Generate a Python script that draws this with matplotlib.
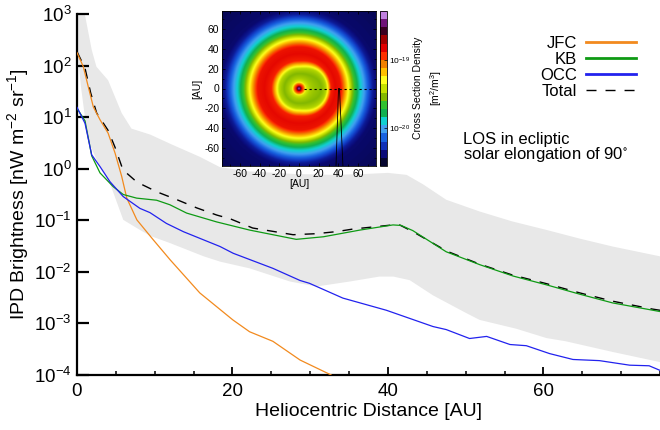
import numpy as np
import matplotlib
matplotlib.use('Agg')
import matplotlib.pyplot as plt
import matplotlib.ticker as mticker
from matplotlib.colors import ListedColormap, LinearSegmentedColormap, LogNorm
from matplotlib.cm import ScalarMappable

plt.rcParams['font.family'] = ['Liberation Sans', 'DejaVu Sans']
plt.rcParams['mathtext.fontset'] = 'custom'
plt.rcParams['mathtext.rm'] = 'Liberation Sans'
plt.rcParams['mathtext.it'] = 'Liberation Sans:italic'
plt.rcParams['mathtext.bf'] = 'Liberation Sans:bold'
plt.rcParams['mathtext.default'] = 'regular'
plt.rcParams['axes.unicode_minus'] = False

# ---------------- data (heliocentric distance [AU], brightness [nW m^-2 sr^-1]) -------------
jfc_x = [0, 0.81, 1.45, 2.1, 2.96, 4.0, 4.9, 5.75, 6.4, 7.7, 9.8, 12.0, 15.8, 20.05, 22.2,
         25.2, 28.7, 32.7, 34.0]
jfc_y = [178, 95.5, 38.9, 15.8, 8.9, 4.9, 2.0, 0.71, 0.27, 0.102, 0.042, 0.017, 0.0039,
         0.00117, 0.00069, 0.00045, 0.000195, 0.0001, 0.00007]

kb_x = [0, 1.03, 1.89, 2.96, 4.67, 5.95, 7.67, 10.24, 11.95, 14.1, 17.96, 22.2, 28.2, 31.7,
        36.4, 40.65, 41.7, 43.2, 47.5, 51.8, 56.1, 60.4, 64.65, 68.9, 75]
kb_y = [14.8, 8.5, 1.78, 0.83, 0.447, 0.316, 0.269, 0.245, 0.200, 0.138, 0.093, 0.0646,
        0.0427, 0.0479, 0.0646, 0.0813, 0.0794, 0.0631, 0.0245, 0.0138, 0.0083, 0.0056,
        0.0037, 0.0025, 0.0017]

occ_x = [0, 1.03, 1.89, 2.96, 4.24, 5.95, 8.1, 9.38, 11.5, 13.7, 18.4, 20.1, 25.2, 28.7,
         29.9, 34.2, 39.8, 45.8, 47.5, 50.5, 52.7, 55.7, 57.8, 60.8, 63.8, 67.2, 71.1,
         73.6, 75]
occ_y = [15.5, 7.6, 1.86, 1.10, 0.56, 0.288, 0.170, 0.141, 0.087, 0.060, 0.031, 0.0229,
         0.0117, 0.0068, 0.0060, 0.0031, 0.0018, 0.00087, 0.00076, 0.00051, 0.00056,
         0.00039, 0.00037, 0.00026, 0.00020, 0.00019, 0.000155, 0.000151, 0.000123]

tot_x = [0, 1.03, 1.76, 2.53, 3.98, 4.88, 5.91, 7.71, 10.3, 12.85, 15.4, 18.0, 19.7, 22.6,
         27.8, 30.8, 33.4, 35.5, 40.6, 41.5, 43.2, 47.6, 51.8, 56.0, 60.4, 64.7, 68.9, 74.0, 75]
tot_y = [186, 89, 29.5, 12.0, 5.6, 2.63, 0.95, 0.55, 0.355, 0.251, 0.174, 0.126, 0.107,
         0.0708, 0.0525, 0.0550, 0.0603, 0.0676, 0.0813, 0.0813, 0.0603, 0.0251, 0.0141,
         0.0087, 0.0059, 0.0039, 0.0027, 0.0019, 0.0018]

band_up_x = [0, 1.0, 1.9, 2.5, 4.0, 5.75, 7.0, 9.4, 12.3, 15.8, 18.4, 22, 28, 33, 37, 40,
             42.4, 44.5, 47.5, 51.8, 56, 60.4, 64.7, 68.9, 75]
band_up_y = [1120, 1000, 200, 95, 52, 12.0, 6.0, 4.6, 2.9, 1.70, 1.07, 0.89, 0.79, 0.76,
             0.79, 0.83, 0.76, 0.50, 0.25, 0.148, 0.095, 0.065, 0.044, 0.031, 0.020]
band_lo_x = [0, 0.5, 1.4, 2.6, 4.24, 5.95, 7.67, 9.4, 12, 16.3, 18.4, 22.2, 27.4, 30.8, 35.1,
             38.9, 40.7, 42.8, 45.8, 50.1, 51.8, 56.5, 60.4, 62.9, 68.9, 75]
band_lo_y = [250, 40, 3.6, 1.4, 0.52, 0.102, 0.071, 0.050, 0.036, 0.020, 0.0158,
             0.0117, 0.0065, 0.0052, 0.0065, 0.0081, 0.0081, 0.0069, 0.0035, 0.00158,
             0.00117, 0.00079, 0.00052, 0.00045, 0.00028, 0.000178]

labels = ['JFC', 'KB', 'OCC', 'Total']
colors = ['#f28a1e', '#0e9a14', '#2222ee', 'black']

# inset: radial profile of log10 cross-section density [m^2/m^3]
ring_r = [0, 1.5, 3, 5, 7, 10, 15, 20, 24, 28, 35, 42, 46, 50, 55, 60, 65, 70, 75, 80, 120]
ring_logd = [-18.30, -18.48, -18.82, -19.05, -19.38, -19.47, -19.55, -19.45, -19.17,
             -18.87, -18.81, -18.84, -19.05, -19.29, -19.59, -19.83, -20.01, -20.19,
             -20.37, -20.45, -20.50]
cb_min, cb_max = -20.56, -18.28
cb_ticks = [1e-20, 1e-19]
los_x = [[5, 78], [40, 37.5], [41, 44.5]]
los_y = [[0, 0], [0, -78], [0, -78]]

cmap_colors = ['#05052e', '#0a0a78', '#1030b8', '#1862e0', '#40a0f0', '#10d0d0', '#10b050',
               '#30c030', '#84b800', '#c4e000', '#ffff20', '#ffc000', '#f08000', '#ff3000',
               '#e00000', '#a00000', '#3a0020', '#701478', '#c080e0']

# ---------------- figure ----------------
fig = plt.figure(figsize=(6.6, 4.3), dpi=100)
ax = fig.add_axes([77/660, 1-375/430, 583/660, 361/430])

ax.fill(list(band_up_x) + list(band_lo_x[::-1]), list(band_up_y) + list(band_lo_y[::-1]),
        color='#e8e8e8', lw=0, zorder=0)
series = [(jfc_x, jfc_y), (kb_x, kb_y), (occ_x, occ_y)]
lines = []
for (xs, ys), lab, c in zip(series, labels[:3], colors[:3]):
    l, = ax.plot(xs, ys, color=c, lw=0.9, label=lab, zorder=3)
    lines.append(l)
l, = ax.plot(tot_x, tot_y, color='black', lw=1.0, ls=(0, (7.2, 6.5)), label='Total', zorder=2)
lines.append(l)

ax.set_yscale('log')
ax.set_xlim(0, 75)
ax.set_ylim(1e-4, 1e3)
ax.yaxis.set_major_locator(mticker.LogLocator(base=10, numticks=20))
ax.yaxis.set_minor_locator(mticker.NullLocator())
ax.xaxis.set_major_locator(mticker.MultipleLocator(20))
ax.xaxis.set_minor_locator(mticker.MultipleLocator(5))
for s in ['top', 'right']:
    ax.spines[s].set_visible(False)
for s in ['left', 'bottom']:
    ax.spines[s].set_linewidth(1.6)
ax.tick_params(axis='y', which='major', direction='in', length=8.5, width=1.6,
               labelsize=13.5, pad=4)
ax.tick_params(axis='x', which='major', direction='in', length=5.5, width=1.3,
               labelsize=13.5, pad=6)
ax.tick_params(axis='x', which='minor', direction='in', length=3, width=1.1)
ax.set_xlabel('Heliocentric Distance [AU]', fontsize=14)
ax.set_ylabel('IPD Brightness [nW m$^{-2}$ sr$^{-1}$]', fontsize=14)
ax.yaxis.set_label_coords((31-77)/583, 0.5)
ax.xaxis.set_label_coords(0.5, (375-403)/361)

leg = ax.legend(handles=lines, loc='upper right', bbox_to_anchor=(636/660, 1-36/430),
                bbox_transform=fig.transFigure, frameon=False, markerfirst=False,
                handlelength=3.0, handletextpad=0.55, labelspacing=0.05, borderpad=0,
                borderaxespad=0, fontsize=12)
for h in leg.get_lines():
    h.set_linewidth(2.0)
leg.get_lines()[3].set_linewidth(1.0)

ax.text(463/660, 1-148/430, 'LOS in ecliptic\nsolar elongation of 90$^{\\circ}$',
        transform=fig.transFigure, fontsize=12, ha='left', va='center', linespacing=0.85)

# ---------------- inset ----------------
axi = fig.add_axes([222/660, 1-166/430, 154/660, 155/430])
g = np.linspace(-78, 78, 400)
X, Y = np.meshgrid(g, g)
R = np.hypot(X, Y)
cos_t = np.where(R > 0, X / np.maximum(R, 1e-9), 0)
shift = 8.0 * np.clip(cos_t, 0, None) ** 1.5 * np.exp(-((R - 25) / 10.0) ** 2)
Rm = R - shift
logd = np.interp(Rm, ring_r, ring_logd)
cmap_smooth = LinearSegmentedColormap.from_list('ipd', cmap_colors, N=256)
cmap_disc = ListedColormap(cmap_colors)
norm = LogNorm(vmin=10**cb_min, vmax=10**cb_max)
axi.imshow(10**logd, extent=(-78, 78, -78, 78), origin='lower', cmap=cmap_smooth,
           norm=norm, interpolation='bilinear', aspect='auto')
axi.plot(los_x[0], los_y[0], color='black', lw=0.8, ls=(0, (2, 2.5)))
axi.plot(los_x[1], los_y[1], color='black', lw=0.6)
axi.plot(los_x[2], los_y[2], color='black', lw=0.6)
axi.set_xlim(-78, 78)
axi.set_ylim(-78, 78)
axi.xaxis.set_major_locator(mticker.MultipleLocator(20))
axi.yaxis.set_major_locator(mticker.MultipleLocator(20))
axi.xaxis.set_minor_locator(mticker.MultipleLocator(10))
axi.yaxis.set_minor_locator(mticker.MultipleLocator(10))
axi.tick_params(which='both', direction='in', top=True, right=True, labelsize=7.5,
                length=2.5, width=0.6, pad=2)
axi.tick_params(which='minor', length=1.5)
axi.set_xlabel('[AU]', fontsize=7.5, labelpad=0)
axi.set_ylabel('[AU]', fontsize=7.5, labelpad=1)
for s in axi.spines.values():
    s.set_linewidth(0.6)

cax = fig.add_axes([380/660, 1-166/430, 7/660, 155/430])
cb = fig.colorbar(ScalarMappable(norm=norm, cmap=cmap_disc), cax=cax)
cb.outline.set_linewidth(0.6)
cb.set_ticks(cb_ticks)
cax.yaxis.set_minor_locator(mticker.NullLocator())
cax.tick_params(labelsize=6, length=2, width=0.5, pad=1.5, direction='in')
fig.text(418/660, 1-88/430, 'Cross Section Density', rotation=90, fontsize=7.5,
         ha='center', va='center')
fig.text(436/660, 1-88/430, '[m$^2$/m$^3$]', rotation=90, fontsize=7.5,
         ha='center', va='center')

fig.savefig('out.png', dpi=100)
